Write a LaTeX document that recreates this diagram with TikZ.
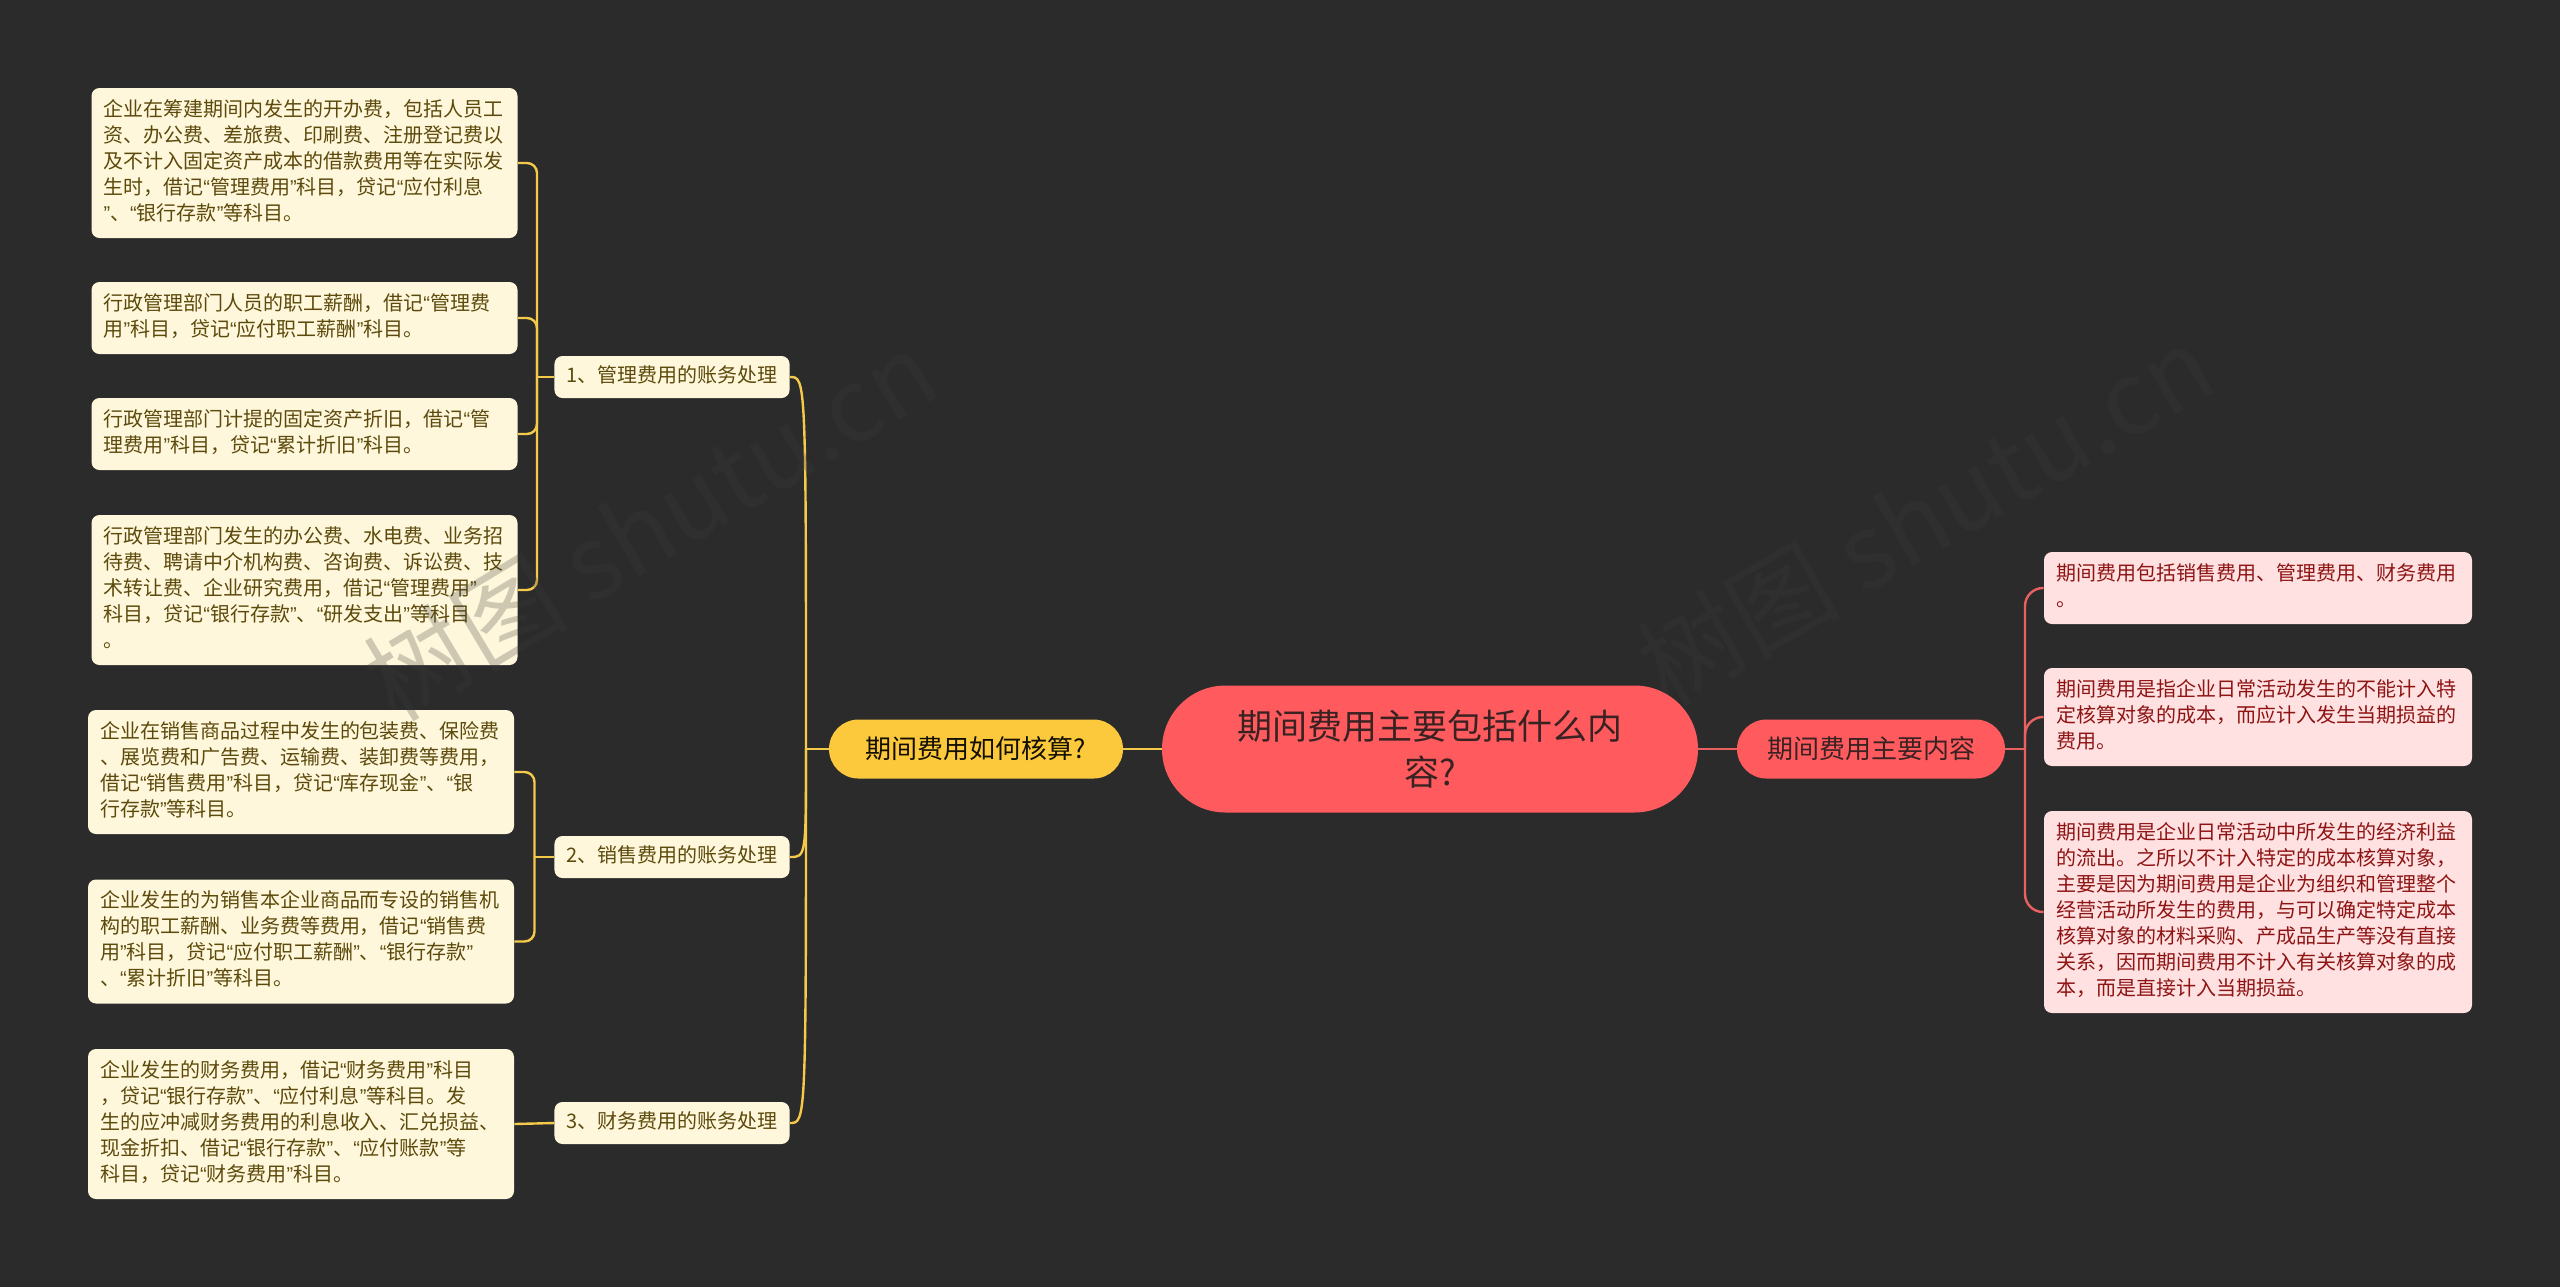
\documentclass[tikz,border=0pt]{standalone}
\usepackage{fontspec}
\setmainfont{Noto Sans CJK SC}
\newfontfamily\quotefont{Liberation Sans}
\catcode`“=\active \def“{{\quotefont\char"201C}}
\catcode`”=\active \def”{{\quotefont\char"201D}}
\usetikzlibrary{shapes.misc}

\definecolor{bgdark}{HTML}{2B2B2B}
\definecolor{ylwline}{HTML}{F5C94A}
\definecolor{ylwfill}{HTML}{FDC93C}
\definecolor{creamfill}{HTML}{FFF7DB}
\definecolor{olivetext}{HTML}{5C4A0C}
\definecolor{redfill}{HTML}{FF5B5F}
\definecolor{redline}{HTML}{E8605F}
\definecolor{pinkfill}{HTML}{FFE1E1}
\definecolor{redtext}{HTML}{8E1414}
\definecolor{darktext}{HTML}{3A2222}
\definecolor{marktext}{HTML}{3C3C3C}

\tikzset{
	leafbox/.style={fill=creamfill, text=olivetext, rounded corners=4pt, align=left, text width=201pt, inner xsep=6pt, inner ysep=5pt, font=\fontsize{10}{13}\selectfont, execute at begin node=\strut, execute at end node=\strut},
	pinkbox/.style={leafbox, fill=pinkfill, text=redtext, text width=202pt},
	branchbox/.style={fill=creamfill, text=olivetext, rounded corners=4pt, inner xsep=6pt, inner ysep=4pt, minimum width=117pt, font=\fontsize{10}{13}\selectfont, execute at begin node=\strut},
	pillnode/.style={rounded rectangle, inner sep=0pt, minimum height=29.5pt, font=\fontsize{13}{16}\selectfont},
	ylwedge/.style={draw=ylwline, line width=1.2pt},
	rededge/.style={draw=redline, line width=1.2pt},
	wmark/.style={text=marktext, text opacity=0.25, font=\fontsize{51}{55}\selectfont}
}

\begin{document}
\begin{tikzpicture}[x=0.5pt, y=-0.5pt]
	\useasboundingbox (0,0) rectangle (2560,1287);
	\fill[bgdark] (0,0) rectangle (2560,1287);

	\node[rounded rectangle, fill=redfill, text=darktext, minimum width=268pt, minimum height=63.5pt, inner sep=0pt, align=center, font=\fontsize{17.5}{23}\selectfont] (C) at (1430,749) {期间费用主要包括什么内\\容?};
	\node[pillnode, fill=ylwfill, text=black!80!olivetext, minimum width=147pt] (Q) at (976,749) {期间费用如何核算?};
	\node[pillnode, fill=redfill, text=darktext, minimum width=134pt] (K) at (1871,749) {期间费用主要内容};

	\node[branchbox] (B1) at (672,377) {1、管理费用的账务处理};
	\node[branchbox] (B2) at (672,857) {2、销售费用的账务处理};
	\node[branchbox] (B3) at (672,1123) {3、财务费用的账务处理};

	\node[leafbox] (L1) at (304.5,163) {企业在筹建期间内发生的开办费，包括人员工\\资、办公费、差旅费、印刷费、注册登记费以\\及不计入固定资产成本的借款费用等在实际发\\生时，借记“管理费用”科目，贷记“应付利息\\”、“银行存款”等科目。};
	\node[leafbox] (L2) at (304.5,318) {行政管理部门人员的职工薪酬，借记“管理费\\用”科目，贷记“应付职工薪酬”科目。};
	\node[leafbox] (L3) at (304.5,434) {行政管理部门计提的固定资产折旧，借记“管\\理费用”科目，贷记“累计折旧”科目。};
	\node[leafbox] (L4) at (304.5,590) {行政管理部门发生的办公费、水电费、业务招\\待费、聘请中介机构费、咨询费、诉讼费、技\\术转让费、企业研究费用，借记“管理费用”\\科目，贷记“银行存款”、“研发支出”等科目\\。};
	\node[leafbox] (S1) at (301,772) {企业在销售商品过程中发生的包装费、保险费\\、展览费和广告费、运输费、装卸费等费用，\\借记“销售费用”科目，贷记“库存现金”、“银\\行存款”等科目。};
	\node[leafbox] (S2) at (301,941.5) {企业发生的为销售本企业商品而专设的销售机\\构的职工薪酬、业务费等费用，借记“销售费\\用”科目，贷记“应付职工薪酬”、“银行存款”\\、“累计折旧”等科目。};
	\node[leafbox] (F1) at (301,1124) {企业发生的财务费用，借记“财务费用”科目\\，贷记“银行存款”、“应付利息”等科目。发\\生的应冲减财务费用的利息收入、汇兑损益、\\现金折扣、借记“银行存款”、“应付账款”等\\科目，贷记“财务费用”科目。};

	\node[pinkbox] (R1) at (2258,588) {期间费用包括销售费用、管理费用、财务费用\\。};
	\node[pinkbox] (R2) at (2258,717) {期间费用是指企业日常活动发生的不能计入特\\定核算对象的成本，而应计入发生当期损益的\\费用。};
	\node[pinkbox] (R3) at (2258,912) {期间费用是企业日常活动中所发生的经济利益\\的流出。之所以不计入特定的成本核算对象，\\主要是因为期间费用是企业为组织和管理整个\\经营活动所发生的费用，与可以确定特定成本\\核算对象的材料采购、产成品生产等没有直接\\关系，因而期间费用不计入有关核算对象的成\\本，而是直接计入当期损益。};

	\coordinate (jQ) at (806,749);
	\coordinate (jK) at (2025,749);
	\coordinate (jB1) at (537,377);
	\coordinate (jB2) at (534.5,857);

	\draw[ylwedge] (C.west) -- (Q.east);
	\draw[ylwedge] (Q.west) -- (jQ);
	\foreach \b in {B1,B2,B3}
		\draw[ylwedge] (jQ) .. controls (jQ |- \b.east) .. (\b.east);
	\draw[ylwedge] (B1.west) -- (jB1);
	\foreach \l in {L1,L2,L3,L4}
		\draw[ylwedge, rounded corners=5pt] (jB1) |- (\l.east);
	\draw[ylwedge] (B2.west) -- (jB2);
	\foreach \s in {S1,S2}
		\draw[ylwedge, rounded corners=5pt] (jB2) |- (\s.east);
	\draw[ylwedge] (B3.west) -- (F1.east);

	\draw[rededge] (C.east) -- (K.west);
	\draw[rededge] (K.east) -- (jK);
	\foreach \r in {R1,R2,R3}
		\draw[rededge, rounded corners=9pt] (jK) |- (\r.west);

	\node[wmark, rotate=31] (wm1) at (650,525) {树图 shutu.cn};
	\node[wmark, rotate=30] (wm2) at (1925,515) {树图 shutu.cn};
\end{tikzpicture}
\end{document}
